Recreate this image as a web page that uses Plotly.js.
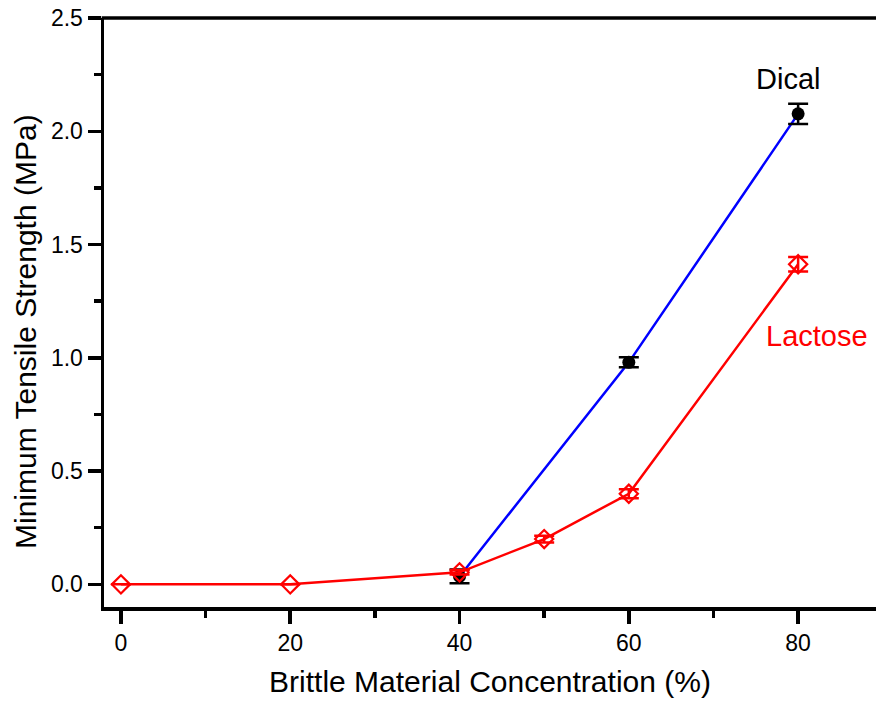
<!DOCTYPE html>
<html>
<head>
<meta charset="utf-8">
<script src="https://cdn.plot.ly/plotly-3.0.1.min.js"></script>
<style>html,body{margin:0;padding:0;background:#fff;}#chart{width:876px;height:706px;}</style>
</head>
<body>
<div id="chart"></div>
<script>
var dicalX = [40, 60, 80];
var dicalY = [0.035, 0.98, 2.077];
var dicalErr = [0.03, 0.022, 0.045];

var lactoseX = [0, 20, 40, 50, 60, 80];
var lactoseY = [0, 0, 0.053, 0.2, 0.4, 1.413];
var lactoseErr = [0, 0, 0.01, 0.015, 0.02, 0.032];

var font = "Liberation Sans, Arial, sans-serif";

var traces = [
  {x: dicalX, y: dicalY, mode: 'lines', line: {color: '#0000ff', width: 2.5}, showlegend: false, hoverinfo: 'skip'},
  {x: dicalX, y: dicalY, mode: 'markers', marker: {symbol: 'circle', size: 13, color: '#000'},
   error_y: {type: 'data', array: dicalErr, visible: true, color: '#000', thickness: 2.5, width: 10}, showlegend: false},
  {x: lactoseX, y: lactoseY, mode: 'lines+markers', line: {color: '#ff0000', width: 2.5},
   marker: {symbol: 'diamond-open', size: 14, color: '#ff0000', line: {width: 2.2, color: '#ff0000'}},
   error_y: {type: 'data', array: lactoseErr, visible: true, color: '#ff0000', thickness: 2.5, width: 10}, showlegend: false}
];

var layout = {
  width: 876, height: 706,
  margin: {l: 104, r: 0, t: 18, b: 99},
  paper_bgcolor: '#fff', plot_bgcolor: '#fff',
  font: {family: font, color: '#000', size: 23},
  xaxis: {
    range: [-2, 89.2], tick0: 0, dtick: 20, ticks: 'outside', ticklen: 13, tickwidth: 3.5, tickcolor: '#000',
    showline: true, linewidth: 3.5, linecolor: '#000', showgrid: false, zeroline: false,
    tickfont: {size: 23, family: font, color: '#000'},
    minor: {dtick: 10, ticks: 'outside', ticklen: 7, tickwidth: 3.5, tickcolor: '#000', showgrid: false},
    title: {text: 'Brittle Material Concentration (%)', font: {size: 30, family: font}, standoff: 17}
  },
  yaxis: {
    range: [-0.1, 2.5], tick0: 0, dtick: 0.5, tickformat: '.1f', ticks: 'outside', ticklen: 13, tickwidth: 3.5, tickcolor: '#000',
    showline: true, linewidth: 3.5, linecolor: '#000', showgrid: false, zeroline: false,
    tickfont: {size: 23, family: font, color: '#000'},
    minor: {dtick: 0.25, ticks: 'outside', ticklen: 7, tickwidth: 3.5, tickcolor: '#000', showgrid: false}
  },
  shapes: [
    {type: 'line', xref: 'paper', yref: 'paper', x0: -0.003, x1: 1, y0: 1, y1: 1, line: {color: '#000', width: 3.5}}
  ],
  annotations: [
    {x: -0.101, y: 0.467, xref: 'paper', yref: 'paper', xanchor: 'center', yanchor: 'middle', textangle: -90,
     text: 'Minimum Tensile Strength (MPa)', showarrow: false, font: {size: 30, color: '#000', family: font}},
    {x: 78.8, y: 2.23, xref: 'x', yref: 'y', text: 'Dical', showarrow: false, font: {size: 29, color: '#000', family: font}},
    {x: 82.2, y: 1.095, xref: 'x', yref: 'y', text: 'Lactose', showarrow: false, font: {size: 29, color: '#ff0000', family: font}}
  ]
};

Plotly.newPlot('chart', traces, layout, {displayModeBar: false, staticPlot: true});
</script>
</body>
</html>
